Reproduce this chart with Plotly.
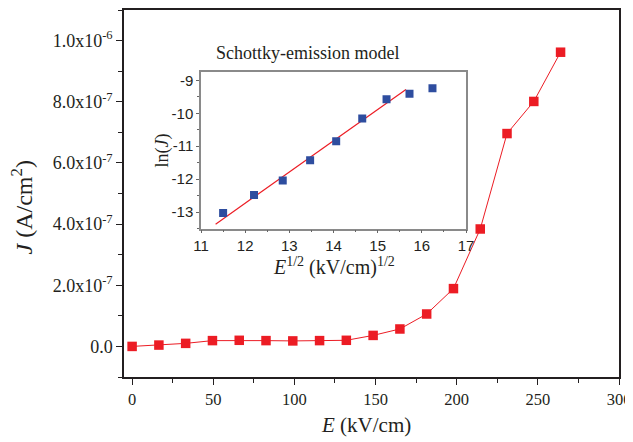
import plotly.graph_objects as go

# Main data: E (kV/cm) and J (A/cm^2)
E_main = [0, 16.5, 33, 49.5, 66, 82.5, 99, 115.5, 132, 148.5, 165, 181.5, 198, 214.5, 231, 247.5, 264]
J_main = [0, 4.4e-9, 1.0e-8, 1.9e-8, 2.0e-8, 1.9e-8, 1.8e-8, 1.9e-8, 2.0e-8, 3.6e-8, 5.7e-8,
          1.06e-7, 1.89e-7, 3.84e-7, 6.96e-7, 8.01e-7, 9.62e-7]

# Inset data: E^1/2 and ln(J)
sqrtE_inset = [11.5, 12.2, 12.85, 13.47, 14.06, 14.65, 15.2, 15.72, 16.24]
lnJ_inset = [-13.03, -12.48, -12.04, -11.43, -10.85, -10.16, -9.57, -9.41, -9.24]

# Linear fit in inset
fit_x = [11.33, 15.64]
fit_slope = 0.949
fit_intercept = -24.12
fit_y = [fit_slope * x + fit_intercept for x in fit_x]

# Tick labels
y_tickvals = [0, 2e-7, 4e-7, 6e-7, 8e-7, 1e-6]
y_ticktext = ["0.0", "2.0x10<sup>-7</sup>", "4.0x10<sup>-7</sup>", "6.0x10<sup>-7</sup>",
              "8.0x10<sup>-7</sup>", "1.0x10<sup>-6</sup>"]
x_tickvals = [0, 50, 100, 150, 200, 250, 300]
inset_x_tickvals = [11, 12, 13, 14, 15, 16, 17]
inset_y_tickvals = [-13, -12, -11, -10, -9]
inset_y_ticktext = ["-13", "-12", "-11", "-10", "-9"]

serif = "Liberation Serif"
sans = "Liberation Sans"
ink = "#231f20"
red = "#ec1c24"
blue = "#2e4d9f"

fig = go.Figure()
fig.add_trace(go.Scatter(
    x=E_main, y=J_main, mode="lines+markers",
    line=dict(color=red, width=1),
    marker=dict(symbol="square", size=9.5, color=red),
    xaxis="x", yaxis="y", showlegend=False))

fig.add_trace(go.Scatter(
    x=fit_x, y=fit_y, mode="lines",
    line=dict(color=red, width=1.2),
    xaxis="x2", yaxis="y2", showlegend=False))
fig.add_trace(go.Scatter(
    x=sqrtE_inset, y=lnJ_inset, mode="markers",
    marker=dict(symbol="square", size=8, color=blue),
    xaxis="x2", yaxis="y2", showlegend=False))

# The page body adds an 8px offset; the figure is sized so it fits the window.
fig.update_layout(
    width=625, height=434,
    margin=dict(l=116, r=14, t=2, b=65),
    paper_bgcolor="white", plot_bgcolor="white",
    font=dict(family=serif, color=ink),
    xaxis=dict(
        range=[-5, 300], tickvals=x_tickvals, ticks="outside", ticklen=6, tickwidth=1.2,
        tickcolor=ink, automargin=False,
        minor=dict(dtick=25, tick0=0, ticks="outside", ticklen=4, tickcolor=ink),
        showline=True, linecolor=ink, linewidth=1.5, mirror=True,
        showgrid=False, zeroline=False,
        tickfont=dict(family=serif, size=16.5, color=ink),
    ),
    yaxis=dict(
        range=[-1e-7, 1.1e-6], tickvals=y_tickvals, ticktext=y_ticktext,
        ticks="outside", ticklen=6, tickwidth=1.2, tickcolor=ink, automargin=False,
        minor=dict(dtick=1e-7, tick0=0, ticks="outside", ticklen=4, tickcolor=ink),
        showline=True, linecolor=ink, linewidth=1.5, mirror=True,
        showgrid=False, zeroline=False,
        tickfont=dict(family=serif, size=18, color=ink),
    ),
    xaxis2=dict(
        domain=[0.1556, 0.691], anchor="y2", range=[11, 17], tickvals=inset_x_tickvals,
        ticks="outside", ticklen=3, tickcolor="#666", automargin=False,
        minor=dict(dtick=0.5, ticks="outside", ticklen=2, tickcolor="#666"),
        showline=True, linecolor="#8a8a8a", linewidth=1.5, mirror=True,
        showgrid=False, zeroline=False,
        tickfont=dict(family=sans, size=15, color=ink),
    ),
    yaxis2=dict(
        domain=[0.4046, 0.8307], anchor="x2", range=[-13.5, -8.75],
        tickvals=inset_y_tickvals, ticktext=inset_y_ticktext, automargin=False,
        ticks="outside", ticklen=3, tickcolor="#666",
        minor=dict(dtick=0.5, ticks="outside", ticklen=2, tickcolor="#666"),
        showline=True, linecolor="#8a8a8a", linewidth=1.5, mirror=True,
        showgrid=False, zeroline=False,
        tickfont=dict(family=sans, size=15, color=ink),
    ),
    annotations=[
        dict(text="Schottky-emission model", xref="paper", yref="paper",
             x=0.3717, y=0.8828, xanchor="center", yanchor="middle", showarrow=False,
             font=dict(family=serif, size=18, color=ink)),
        dict(text="<i>J</i> (A/cm<sup>2</sup>)", xref="paper", yref="paper",
             x=-0.206, y=0.462, xanchor="center", yanchor="middle", showarrow=False,
             textangle=-90, font=dict(family=serif, size=24, color=ink)),
        dict(text="<i>E</i> (kV/cm)", xref="paper", yref="paper",
             x=0.489, y=-0.1308, xanchor="center", yanchor="middle", showarrow=False,
             font=dict(family=serif, size=21, color=ink)),
        dict(text="<i>E</i><sup>1/2</sup> (kV/cm)<sup>1/2</sup>", xref="paper", yref="paper",
             x=0.4236, y=0.300, xanchor="center", yanchor="middle", showarrow=False,
             font=dict(family=serif, size=20, color=ink)),
        dict(text="ln(<i>J</i>)", xref="paper", yref="paper",
             x=0.076, y=0.6158, xanchor="center", yanchor="middle", showarrow=False,
             textangle=-90, font=dict(family=serif, size=18, color=ink)),
    ],
)

fig.write_html("out.html")
